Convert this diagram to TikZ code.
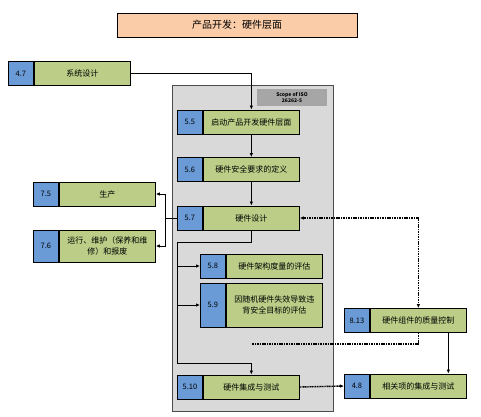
\documentclass[tikz,border=0pt]{standalone}
\usepackage{fontspec}
\setmainfont{Noto Sans CJK SC}
\usetikzlibrary{arrows.meta,positioning}

\definecolor{numblue}{RGB}{106,155,215}
\definecolor{boxgreen}{RGB}{187,205,135}
\definecolor{titlepeach}{RGB}{250,204,168}
\definecolor{areagray}{RGB}{217,217,217}
\definecolor{labelgray}{RGB}{166,166,166}

\begin{document}
\begin{tikzpicture}[
    x=1pt, y=-1pt,
    node distance=0pt,
    >={Latex[length=4pt,width=3.5pt]},
    num/.style={rectangle, draw=black, fill=numblue, line width=0.9pt, minimum width=25pt, minimum height=24pt, inner sep=0pt, anchor=west, font=\fontsize{7.5}{8}\selectfont},
    part/.style={rectangle, draw=black, fill=boxgreen, line width=0.9pt, minimum width=96pt, minimum height=24pt, inner sep=1pt, align=center, font=\fontsize{8}{11}\selectfont},
    titlebox/.style={rectangle, draw=black, fill=titlepeach, line width=1pt, minimum width=240pt, minimum height=24pt, font=\fontsize{10}{12}\selectfont},
    area/.style={rectangle, draw=black!70, fill=areagray, line width=0.8pt, minimum width=161pt, minimum height=326pt},
    scopelabel/.style={rectangle, fill=labelgray, minimum width=70pt, minimum height=17pt, inner sep=0pt, align=center, font=\fontsize{5}{6.5}\selectfont\bfseries},
    line/.style={line width=0.9pt},
    dotline/.style={line width=1.4pt, dash pattern=on 1.1pt off 0.6pt},
]
    \useasboundingbox (0,0) rectangle (481,416);

    % Title
    \node[titlebox] (title) at (237,25) {产品开发：硬件层面};

    % Scope of the standard part
    \node[area] (area) at (252.5,248) {};
    \node[scopelabel] (scopelbl) at (292,97.5) {Scope of ISO\\26262-5};

    % System level
    \node[num] (n47) at (8,73.5) {4.7};
    \node[part, right=of n47] (b47) {系统设计};

    % Hardware level
    \node[num] (n55) at (177,122) {5.5};
    \node[part, right=of n55] (b55) {启动产品开发硬件层面};
    \node[num] (n56) at (177,169.5) {5.6};
    \node[part, right=of n56] (b56) {硬件安全要求的定义};
    \node[num] (n57) at (177,218) {5.7};
    \node[part, right=of n57] (b57) {硬件设计};
    \node[num] (n58) at (200,266) {5.8};
    \node[part, right=of n58] (b58) {硬件架构度量的评估};
    \node[num, minimum height=44pt] (n59) at (200,305) {5.9};
    \node[part, minimum height=44pt, right=of n59] (b59) {因随机硬件失效导致违\\背安全目标的评估};
    \node[num] (n510) at (177,387) {5.10};
    \node[part, right=of n510] (b510) {硬件集成与测试};

    % Production and operation
    \node[num] (n75) at (33,194) {7.5};
    \node[part, right=of n75] (b75) {生产};
    \node[num, minimum height=32pt] (n76) at (33,246) {7.6};
    \node[part, minimum height=32pt, right=of n76] (b76) {运行、维护（保养和维\\修）和报废};

    % Supporting processes
    \node[num] (n813) at (344,320.5) {8.13};
    \node[part, right=of n813] (b813) {硬件组件的质量控制};
    \node[num] (n48) at (344,386) {4.8};
    \node[part, right=of n48] (b48) {相关项的集成与测试};

    % Helper points
    \coordinate (split) at (165,218);
    \coordinate (trunktop) at (177,242);
    \coordinate (trunkbot) at (177,363);
    \coordinate (dotlevel) at (0,344);
    \coordinate (join) at (b510.north |- dotlevel);

    % Connections
    \draw[->, line] (b47.east) -| (b55.north);
    \draw[->, line] (b55.south) -- (b56.north);
    \draw[->, line] (b56.south) -- (b57.north);
    \draw[line] (n57.west) -- (split);
    \draw[->, line] (split) |- (b75.east);
    \draw[->, line] (split) |- (b76.east);
    \draw[->, line] (b57.south) |- (trunktop) -- (trunkbot) -| (b510.north);
    \draw[->, line] (trunktop |- n58.west) -- (n58.west);
    \draw[->, line] (trunktop |- n59.west) -- (n59.west);
    \draw[<->, dotline] (b57.east) -| (b813.north);
    \draw[dotline] (b813.south) |- (join);
    \draw[->, line] ([xshift=30pt]b813.south) -- ([xshift=30pt]b48.north);
    \draw[->, dotline] (b510.east) -- (n48.west);
\end{tikzpicture}
\end{document}
